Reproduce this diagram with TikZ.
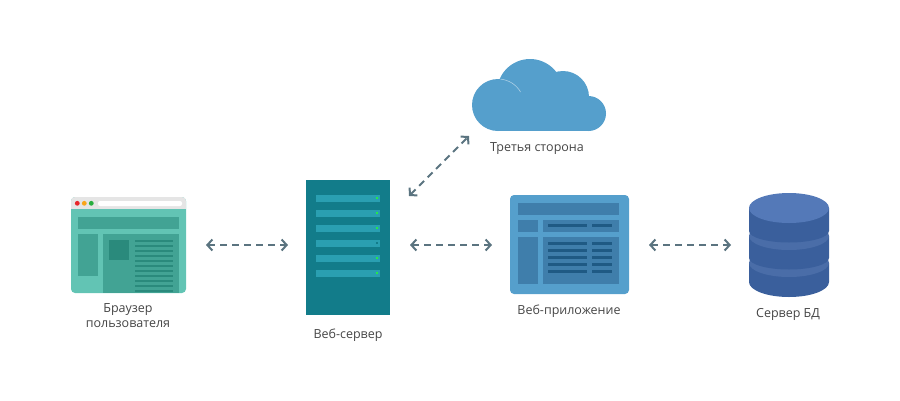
\documentclass[tikz,border=0pt]{standalone}
\usepackage{fontspec}
\setmainfont{Open Sans}
\usetikzlibrary{arrows.meta}
\definecolor{linkgray}{HTML}{5B7480}
\definecolor{labelgray}{HTML}{454545}
\definecolor{mint}{HTML}{62C4B4}
\definecolor{mintmid}{HTML}{42A394}
\definecolor{mintdark}{HTML}{2A8A7C}
\definecolor{dotred}{HTML}{E8262A}
\definecolor{dotorange}{HTML}{F9A51A}
\definecolor{dotgreen}{HTML}{27AE3F}
\definecolor{rack}{HTML}{127C8A}
\definecolor{rackslot}{HTML}{2A9FB1}
\definecolor{rackled}{HTML}{25E84A}
\definecolor{sky}{HTML}{559FCC}
\definecolor{skymid}{HTML}{3F7EAB}
\definecolor{skydark}{HTML}{1F5A84}
\definecolor{dbside}{HTML}{3A5F9C}
\definecolor{dbband}{HTML}{4A6DA8}
\definecolor{dbtop}{HTML}{5479B8}
\tikzset{
    box/.style={inner sep=0pt,outer sep=0pt},
    caption/.style={text=labelgray,font=\fontsize{12.5}{15}\selectfont,align=center},
    link/.style={draw=linkgray,line width=2pt,dash pattern=on 7pt off 5pt,
        {Straight Barb[length=5pt,width=11pt]}-{Straight Barb[length=5pt,width=11pt]}},
    hlink/.style={link,shorten <=20pt,shorten >=18pt},
}
\begin{document}
\begin{tikzpicture}[x=1pt,y=-1pt]
        \useasboundingbox (0,0) rectangle (900,400);
        % browser
        \node[box,fill=mint,rounded corners=4pt,minimum width=115pt,minimum height=96pt] (browser) at (128.5,245) {};
        \scope
            \clip[rounded corners=4pt] (71,197) rectangle (186,293);
            \fill[fill=black!10] (71,197) rectangle (186,209);
            \fill[fill=mintmid] (103,234) rectangle (179,293);
            \foreach \y in {240,245,...,290} {
                \fill[fill=mintdark] (135,\y) rectangle +(38,2);
            }
        \endscope
        \foreach \x/\c in {77.3/dotred,84.3/dotorange,91.3/dotgreen} {
            \fill[fill=\c] (\x,203.3) circle (2.4);
        }
        \fill[fill=white,rounded corners=2pt] (98,201) rectangle (182,206);
        \fill[fill=mintmid] (78,217) rectangle (179,229);
        \fill[fill=mintmid] (78,234) rectangle (98,276);
        \fill[fill=mintdark] (109,240) rectangle (129,260);
        \node[caption] (browserlabel) at (128,316) {Браузер\\пользователя};
        % web server
        \node[box,fill=rack,minimum width=84pt,minimum height=135pt] (server) at (348,247.5) {};
        \foreach \y/\c in {195/rackled,210/rackled,225/rackled,240/rack,255/rackled,270/rackled} {
            \fill[fill=rackslot] (316,\y) rectangle +(64,7);
            \fill[fill=\c] (376,\y+2) rectangle +(2,2);
        }
        \node[caption] (serverlabel) at (348,335) {Веб-сервер};
        % web application
        \fill[fill=sky,rounded corners=4pt] (510,195) rectangle (629,294);
        \node[box,minimum width=119pt,minimum height=100pt] (webapp) at (569.5,245) {};
        \foreach \xa/\ya/\xb/\yb in {518/203/619/215,518/220/538/232,543/220/619/232,518/237/538/284,543/237/619/284} {
            \fill[fill=skymid] (\xa,\ya) rectangle (\xb,\yb);
        }
        \foreach \y in {224,242,249,256,263,270} {
            \fill[fill=skydark] (548,\y) rectangle +(39,3);
            \fill[fill=skydark] (592,\y) rectangle +(20,3);
        }
        \node[caption] (webapplabel) at (569,311.5) {Веб-приложение};
        % database
        \node[box,minimum width=80pt,minimum height=104pt] (db) at (789,245) {};
        \foreach \t/\b/\r/\c/\e in {263/282/15/dbband/14,236/258/11.5/dbband/14,208/231/11.5/dbtop/15} {
            \fill[fill=dbside] (749,\t) -- (749,\b) arc[start angle=180,end angle=0,x radius=40,y radius=\r] -- (829,\t) -- cycle;
            \fill[fill=\c] (789,\t) ellipse [x radius=40,y radius=\e];
        }
        \node[caption] (dblabel) at (788,314.5) {Сервер БД};
        % third party
        \fill[fill=sky] (530,92) circle (33) (563,97) circle (26) (588.5,113.5) circle (17.5) (498,105) circle (26);
        \fill[fill=sky] (498,100) rectangle (588.5,131);
        \draw[draw=white!50!sky,line width=.6pt] (500.3,79.1) arc[start angle=-85,end angle=-30,radius=26];
        \node[caption] (thirdlabel) at (537,148.5) {Третья сторона};
        % links
        \coordinate (thirdend) at (469,136);
        \coordinate (serverend) at (409,196);
        \draw[hlink] (browser.east) -- (browser.east -| server.west);
        \draw[hlink] (server.east |- webapp.west) -- (webapp.west);
        \draw[hlink] (webapp.east) -- (webapp.east -| db.west);
        \draw[link] (serverend) -- (thirdend);
        \end{tikzpicture}
\end{document}
